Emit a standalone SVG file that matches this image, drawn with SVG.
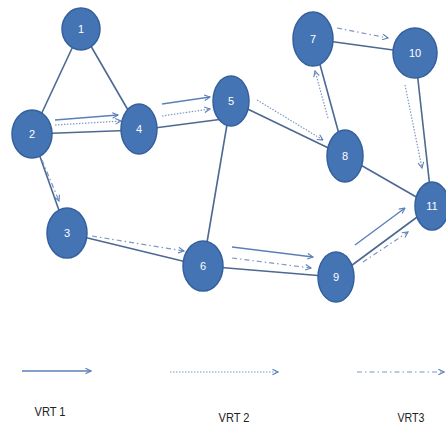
<svg xmlns="http://www.w3.org/2000/svg" width="446" height="425" viewBox="0 0 446 425">
  <defs>
    <marker id="head" viewBox="0 0 10 10" refX="9" refY="5" markerWidth="7" markerHeight="7" orient="auto" markerUnits="userSpaceOnUse">
      <path d="M1,1 L9,5 L1,9" fill="none" stroke="#5b80b8" stroke-width="1.6"/>
    </marker>
    <style>
      .edge { stroke: #4d6891; stroke-width: 1.6; fill: none; }
      .node ellipse { fill: #4574b5; stroke: #34609c; stroke-width: 1.5; }
      .node text { fill: #ffffff; font-family: "Liberation Sans", Arial, sans-serif; font-size: 11px; text-anchor: middle; dominant-baseline: central; }
      .vrt1 { stroke: #5b80b8; stroke-width: 1.4; fill: none; marker-end: url(#head); }
      .vrt2 { stroke: #7d98c2; stroke-width: 1.2; fill: none; stroke-dasharray: 1.5 1.5; marker-end: url(#head); }
      .vrt3 { stroke: #7d98c2; stroke-width: 1.2; fill: none; stroke-dasharray: 5 3 1.5 3; marker-end: url(#head); }
      .legend { fill: #222222; font-family: "Liberation Sans", Arial, sans-serif; font-size: 13px; text-anchor: middle; }
    </style>
  </defs>

  <rect width="446" height="425" fill="#ffffff"/>

  <!-- undirected graph edges -->
  <g id="edges">
    <line class="edge" x1="81" y1="29" x2="32" y2="134"/>
    <line class="edge" x1="81" y1="29" x2="139" y2="129"/>
    <line class="edge" x1="32" y1="134" x2="139" y2="130"/>
    <line class="edge" x1="32" y1="134" x2="67" y2="233"/>
    <line class="edge" x1="139" y1="130" x2="231" y2="118"/>
    <line class="edge" x1="231" y1="101" x2="203" y2="266"/>
    <line class="edge" x1="231" y1="101" x2="345" y2="156"/>
    <line class="edge" x1="67" y1="233" x2="203" y2="266"/>
    <line class="edge" x1="203" y1="266" x2="336" y2="277"/>
    <line class="edge" x1="336" y1="277" x2="432" y2="206"/>
    <line class="edge" x1="345" y1="156" x2="432" y2="206"/>
    <line class="edge" x1="313" y1="39" x2="345" y2="156"/>
    <line class="edge" x1="313" y1="39" x2="415" y2="53"/>
    <line class="edge" x1="415" y1="53" x2="432" y2="206"/>
  </g>

  <!-- route arrows -->
  <g id="connectors">
    <line class="vrt1" x1="55" y1="120" x2="118" y2="115"/>
    <line class="vrt2" x1="55" y1="125" x2="121" y2="121"/>
    <line class="vrt1" x1="162" y1="104" x2="210" y2="97"/>
    <line class="vrt2" x1="162" y1="116" x2="210" y2="109"/>
    <line class="vrt2" x1="257" y1="100" x2="323" y2="140"/>
    <line class="vrt2" x1="328" y1="118" x2="315" y2="71"/>
    <line class="vrt3" x1="337" y1="28" x2="388" y2="38"/>
    <line class="vrt2" x1="405" y1="85" x2="422" y2="168"/>
    <line class="vrt3" x1="42" y1="160" x2="59" y2="201"/>
    <line class="vrt3" x1="92" y1="236" x2="184" y2="251"/>
    <line class="vrt1" x1="232" y1="247" x2="313" y2="257"/>
    <line class="vrt3" x1="232" y1="258" x2="311" y2="268"/>
    <line class="vrt1" x1="355" y1="245" x2="405" y2="208"/>
    <line class="vrt3" x1="363" y1="262" x2="408" y2="232"/>
  </g>

  <g id="n1" class="node"><ellipse cx="81" cy="29" rx="19" ry="21"/><text x="81" y="29">1</text></g>
  <g id="n2" class="node"><ellipse cx="32" cy="134" rx="20" ry="24"/><text x="32" y="134">2</text></g>
  <g id="n3" class="node"><ellipse cx="67" cy="233" rx="20" ry="25"/><text x="67" y="233">3</text></g>
  <g id="n4" class="node"><ellipse cx="139" cy="129" rx="18" ry="25"/><text x="139" y="129">4</text></g>
  <g id="n5" class="node"><ellipse cx="231" cy="101" rx="18" ry="25"/><text x="231" y="101">5</text></g>
  <g id="n6" class="node"><ellipse cx="203" cy="266" rx="20" ry="25"/><text x="203" y="266">6</text></g>
  <g id="n7" class="node"><ellipse cx="313" cy="39" rx="20" ry="27"/><text x="313" y="39">7</text></g>
  <g id="n8" class="node"><ellipse cx="345" cy="156" rx="18" ry="26"/><text x="345" y="156">8</text></g>
  <g id="n9" class="node"><ellipse cx="336" cy="277" rx="18" ry="25"/><text x="336" y="277">9</text></g>
  <g id="n10" class="node"><ellipse cx="415" cy="53" rx="22" ry="25"/><text x="415" y="53">10</text></g>
  <g id="n11" class="node"><ellipse cx="432" cy="206" rx="17" ry="24"/><text x="432" y="206">11</text></g>

  <!-- legend -->
  <g id="legend">
    <line class="vrt1" x1="22" y1="371" x2="91" y2="371"/>
    <line class="vrt2" x1="170" y1="372" x2="278" y2="372"/>
    <line class="vrt3" x1="357" y1="372" x2="444" y2="372"/>
    <text class="legend" x="50" y="416" textLength="31" lengthAdjust="spacingAndGlyphs">VRT 1</text>
    <text class="legend" x="234" y="422" textLength="31" lengthAdjust="spacingAndGlyphs">VRT 2</text>
    <text class="legend" x="411" y="422" textLength="27" lengthAdjust="spacingAndGlyphs">VRT3</text>
  </g>
</svg>
